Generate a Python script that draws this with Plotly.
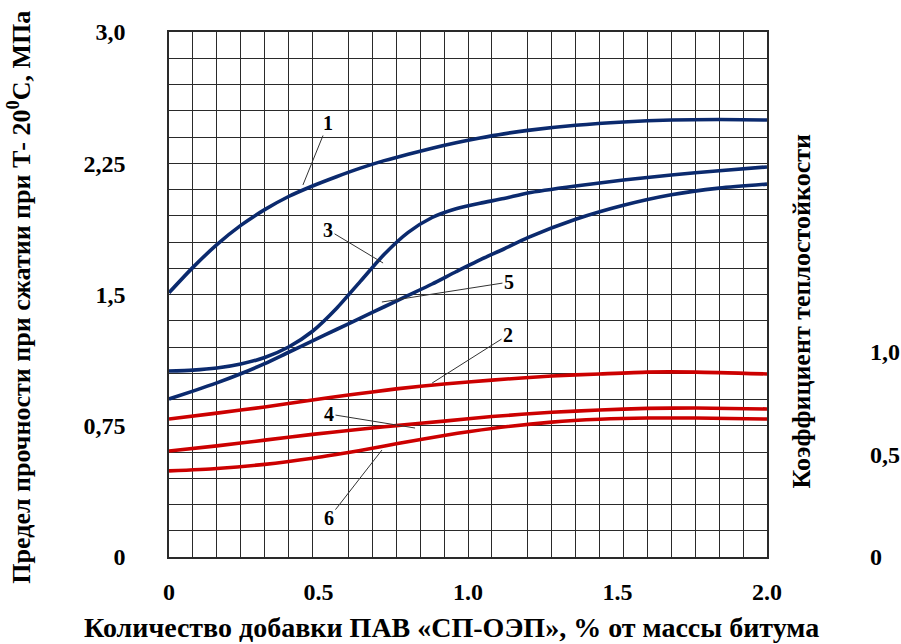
import plotly.graph_objects as go

# ---- data ----
x_blue = [0.0, 0.08, 0.16, 0.24, 0.32, 0.40, 0.48, 0.56, 0.64, 0.72, 0.80, 0.88, 0.96,
          1.04, 1.12, 1.20, 1.36, 1.52, 1.68, 1.84, 2.0]

# left axis (MPa)
curve1 = [1.51, 1.655, 1.785, 1.895, 1.985, 2.06, 2.12, 2.173, 2.222, 2.265, 2.302, 2.336, 2.367,
          2.394, 2.418, 2.438, 2.467, 2.486, 2.497, 2.50, 2.497]
curve3 = [1.063, 1.068, 1.08, 1.103, 1.14, 1.20, 1.29, 1.42, 1.575, 1.73, 1.855, 1.94, 1.99,
          2.022, 2.048, 2.08, 2.12, 2.154, 2.183, 2.207, 2.229]
curve5 = [0.903, 0.948, 0.995, 1.047, 1.105, 1.17, 1.235, 1.30, 1.365, 1.43, 1.495, 1.56, 1.63,
          1.698, 1.76, 1.825, 1.93, 2.01, 2.07, 2.108, 2.131]

# right axis (coefficient)
x_red = [0.0, 0.16, 0.32, 0.48, 0.60, 0.68, 0.76, 0.92, 1.08, 1.28, 1.44, 1.60, 1.76, 2.0]
curve2 = [0.673, 0.702, 0.732, 0.766, 0.79, 0.805, 0.82, 0.844, 0.863, 0.883, 0.893, 0.902, 0.902, 0.893]
curve4 = [0.517, 0.542, 0.57, 0.598, 0.617, 0.629, 0.641, 0.663, 0.685, 0.706, 0.717, 0.725, 0.727, 0.722]
curve6 = [0.42, 0.432, 0.452, 0.482, 0.51, 0.53, 0.552, 0.593, 0.627, 0.658, 0.672, 0.678, 0.678, 0.673]

x_ticks = [0, 0.5, 1.0, 1.5, 2.0]
x_ticktext = ["0", "0.5", "1.0", "1.5", "2.0"]
y_ticks = [0, 0.75, 1.5, 2.25, 3.0]
y_ticktext = ["0", "0,75", "1,5", "2,25", "3,0"]
y2_ticks = [0, 0.5, 1.0]
y2_ticktext = ["0", "0,5", "1,0"]

x_grid = [0.0, 0.08, 0.16, 0.24, 0.32, 0.40, 0.48, 0.60, 0.68, 0.76, 0.84, 0.92, 1.0,
          1.08, 1.20, 1.28, 1.36, 1.44, 1.52, 1.60, 1.68, 1.76, 1.84, 1.92, 2.0]
y_grid = [i * 0.15 for i in range(21)]

# curve labels: (text, text_x, text_y, point_x, point_y)
labels = [
    ("1", 0.532, 2.48, 0.448, 2.126),
    ("3", 0.532, 1.869, 0.716, 1.68),
    ("5", 1.137, 1.571, 0.712, 1.457),
    ("2", 1.134, 1.269, 0.88, 0.994),
    ("4", 0.535, 0.817, 0.823, 0.737),
    ("6", 0.535, 0.223, 0.712, 0.611),
]

BLUE = "#0b2a6e"
RED = "#cc0000"
FONT = "Liberation Serif"

fig = go.Figure()
for ys in (curve1, curve3, curve5):
    fig.add_trace(go.Scatter(x=x_blue, y=ys, mode="lines",
                             line=dict(color=BLUE, width=3.6, shape="spline", smoothing=0.7),
                             showlegend=False, hoverinfo="skip"))
for ys in (curve2, curve4, curve6):
    fig.add_trace(go.Scatter(x=x_red, y=ys, mode="lines", yaxis="y2",
                             line=dict(color=RED, width=3.6, shape="spline", smoothing=0.6),
                             showlegend=False, hoverinfo="skip"))

for t, tx, ty, px, py in labels:
    fig.add_annotation(x=px, y=py, ax=tx, ay=ty, xref="x", yref="y", axref="x", ayref="y",
                       text="<b>%s</b>" % t, showarrow=True, arrowhead=0, arrowwidth=1,
                       arrowcolor="#333", standoff=0, startstandoff=0,
                       font=dict(family=FONT, size=20, color="black"))

GRIDC = "#2a2a2a"
TICKF = dict(family=FONT, size=24, color="black", weight="bold")
fig.update_layout(
    width=901, height=644,
    margin=dict(l=169, r=134, t=32, b=87, autoexpand=False),
    paper_bgcolor="white", plot_bgcolor="white",
    font=dict(family=FONT, size=18, color="black"),
    xaxis=dict(range=[0, 2.0], tickmode="array", tickvals=x_ticks, ticktext=x_ticktext,
               showgrid=False, zeroline=False, showline=True, linecolor=GRIDC, linewidth=1.5,
               mirror=True, ticks="", ticklabelstandoff=12, tickfont=TICKF, automargin=False,
               minor=dict(tickmode="array", tickvals=x_grid, showgrid=True,
                          gridcolor=GRIDC, gridwidth=1.3, ticks="")),
    yaxis=dict(range=[0, 3.0], tickmode="array", tickvals=y_ticks, ticktext=y_ticktext,
               showgrid=False, zeroline=False, showline=True, linecolor=GRIDC, linewidth=1.5,
               mirror=True, ticks="", ticklabelstandoff=37, tickfont=TICKF, automargin=False,
               minor=dict(tickmode="array", tickvals=y_grid, showgrid=True,
                          gridcolor=GRIDC, gridwidth=1.3, ticks="")),
    yaxis2=dict(range=[0, 525 / 205], overlaying="y", side="right", tickmode="array",
                tickvals=y2_ticks, ticktext=y2_ticktext, showgrid=False, zeroline=False,
                showline=False, ticks="", ticklabelstandoff=102, tickfont=TICKF,
                automargin=False),
)

fig.add_annotation(xref="paper", yref="paper", x=0.473, y=-0.135,
                   xanchor="center", yanchor="middle",
                   text="<b>Количество добавки ПАВ «СП-ОЭП», % от массы битума</b>",
                   showarrow=False, font=dict(family=FONT, size=28, color="black"))
fig.add_annotation(xref="paper", yref="paper", x=-0.25, y=0.495, textangle=-90,
                   xanchor="center", yanchor="middle",
                   text="<b>Предел прочности при сжатии при Т- 20<sup>0</sup>С, МПа</b>",
                   showarrow=False, font=dict(family=FONT, size=26, color="black"))
fig.add_annotation(xref="paper", yref="paper", x=1.058, y=0.467, textangle=-90,
                   xanchor="center", yanchor="middle",
                   text="<b>Коэффициент теплостойкости</b>",
                   showarrow=False, font=dict(family=FONT, size=26, color="black"))

fig.write_html("out.html")
